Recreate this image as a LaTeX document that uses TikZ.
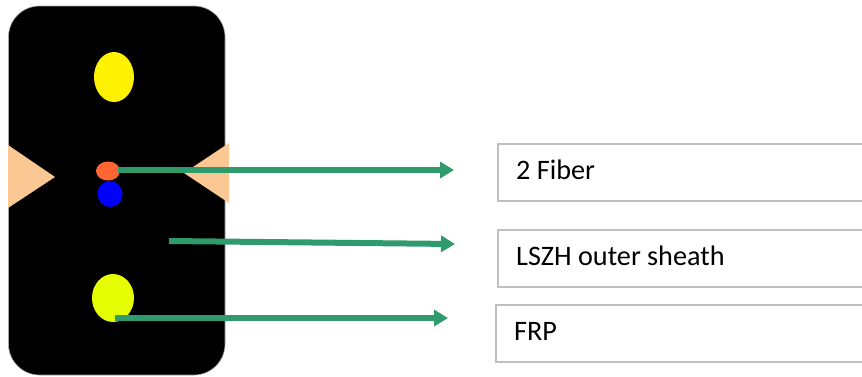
\documentclass[tikz,border=0pt]{standalone}
\usepackage{fontspec}
\setmainfont{Carlito}
\usetikzlibrary{arrows.meta,calc,shapes.geometric}
\definecolor{armgreen}{HTML}{2F9A6B}
\definecolor{peach}{HTML}{FBC793}
\definecolor{boxgray}{HTML}{BFBFBF}
\definecolor{lime}{HTML}{E6FF00}
\definecolor{orangered}{HTML}{FF6633}
\tikzset{
  core/.style={ellipse,inner sep=0pt},
  pointer/.style={draw=armgreen,line width=6pt,-{Triangle[length=14pt,width=16pt,fill=armgreen]},shorten >=0pt},
  labelbox/.style={draw=boxgray,line width=1.6pt,fill=white,rectangle,minimum height=57pt,minimum width=420pt,anchor=north west,inner sep=0pt},
  labeltext/.style={anchor=base west,inner sep=0pt,font=\fontsize{28.2pt}{32pt}\selectfont,text=black}
}
\begin{document}
\begin{tikzpicture}[x=1pt,y=-1pt]
\useasboundingbox (0,0) rectangle (862,376);
\clip (0,0) rectangle (862,376);
% cable body
\fill[black,rounded corners=31pt] (8.5,6) rectangle (225,375);
\draw[gray!70,line width=0.6pt,rounded corners=31pt] (8.5,6) rectangle (225,375);
% notches
\fill[peach] (8,145) -- (55,177) -- (8,208) -- cycle;
\fill[peach] (229,143) -- (184,173) -- (229,203) -- cycle;
% cores
\node[core,fill=yellow,minimum width=40pt,minimum height=50pt] (top) at (114,77) {};
\node[core,fill=lime,minimum width=42pt,minimum height=48pt] (bottom) at (113,298) {};
\node[core,fill=blue,minimum width=25pt,minimum height=26pt] (fiberb) at (110,194) {};
\node[core,fill=orangered,minimum width=24pt,minimum height=19pt] (fibera) at (108,171) {};
% label boxes
\node[labelbox] (box1) at (497,143) {};
\node[labelbox] (box2) at (497,229) {};
\node[labelbox] (box3) at (495,304) {};
\node[labeltext] (t1) at (516,179) {2 Fiber};
\node[labeltext] (t2) at (516,265) {LSZH outer sheath};
\node[labeltext] (t3) at (514,340) {FRP};
% pointers
\coordinate (s1) at (118,170);
\coordinate (e1) at (454,170);
\coordinate (s2) at (169,241);
\coordinate (e2) at (455,244);
\coordinate (s3) at (115,318);
\coordinate (e3) at (448,318);
\draw[pointer] (s1) -- (e1);
\draw[pointer] (s2) -- (e2);
\draw[pointer] (s3) -- (e3);
\end{tikzpicture}
\end{document}
